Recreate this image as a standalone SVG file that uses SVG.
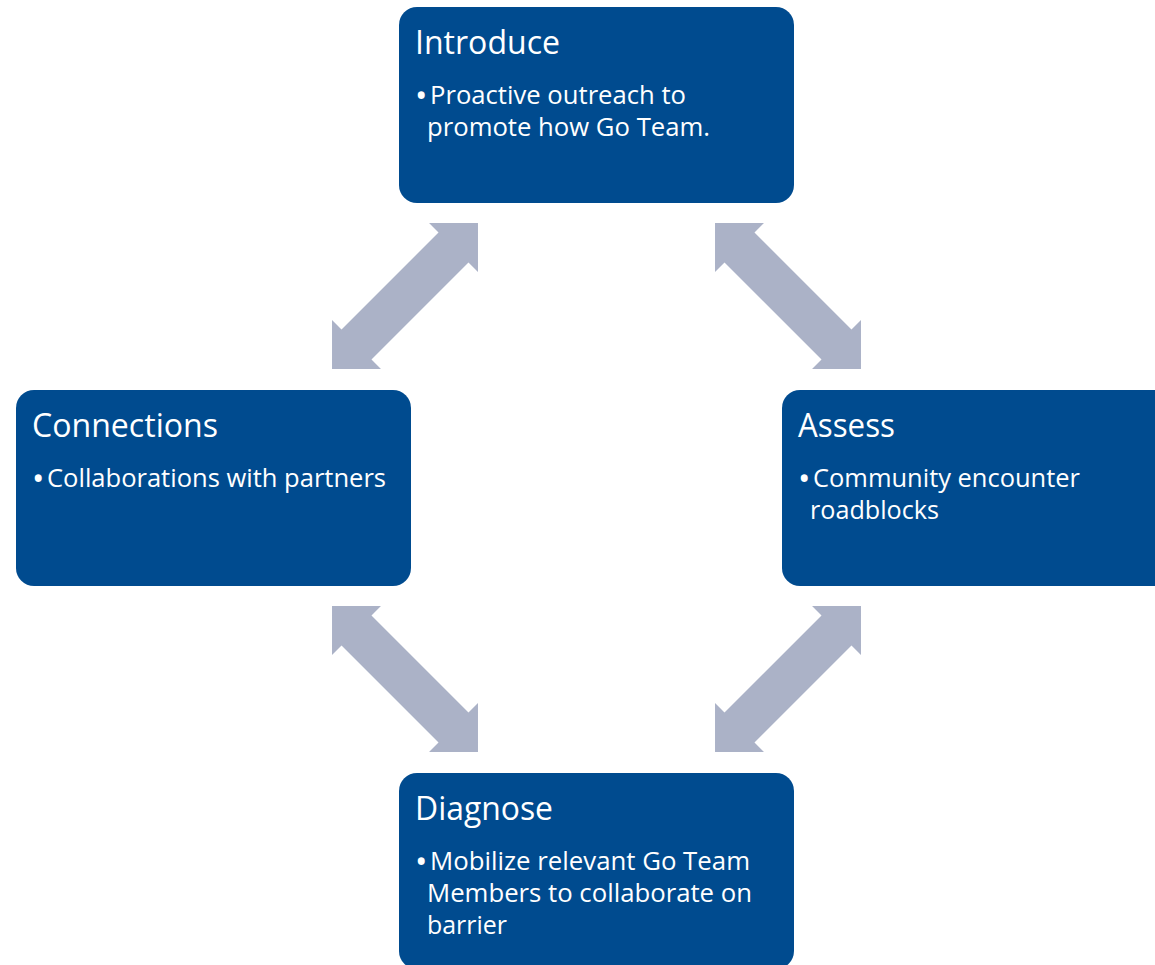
<svg xmlns="http://www.w3.org/2000/svg" xmlns:xlink="http://www.w3.org/1999/xlink" width="1155" height="965" viewBox="0 0 1155 965">
<style>
.box{fill:#004B8F;}
.arrow{fill:#ABB2C7;}
.title{font-family:"Open Sans","Noto Sans",sans-serif;font-size:32px;fill:#FFFFFF;}
.body{font-family:"Open Sans","Noto Sans",sans-serif;font-size:25px;fill:#FFFFFF;}
.bullet{font-family:"Open Sans","Noto Sans",sans-serif;font-size:33px;fill:#FFFFFF;}
</style>
<defs>
<polygon id="dblarrow" points="103.2,0 68.6,34.6 68.6,21.2 -68.6,21.2 -68.6,34.6 -103.2,0 -68.6,-34.6 -68.6,-21.2 68.6,-21.2 68.6,-34.6"/>
</defs>
<rect width="1155" height="965" fill="#FFFFFF"/>
<g id="connectors">
<use xlink:href="#dblarrow" class="arrow" transform="translate(405,296) rotate(-45)"/>
<use xlink:href="#dblarrow" class="arrow" transform="translate(788,296) rotate(45)"/>
<use xlink:href="#dblarrow" class="arrow" transform="translate(405,679) rotate(45)"/>
<use xlink:href="#dblarrow" class="arrow" transform="translate(788,679) rotate(-45)"/>
</g>
<g id="introduce">
<rect class="box" x="399" y="7" width="395" height="196" rx="18"/>
<text class="title" x="415" y="54" textLength="145" lengthAdjust="spacingAndGlyphs">Introduce</text>
<text class="bullet" x="415" y="107">•</text>
<text class="body" x="430" y="104" textLength="256" lengthAdjust="spacingAndGlyphs">Proactive outreach to</text>
<text class="body" x="427" y="136" textLength="283" lengthAdjust="spacingAndGlyphs">promote how Go Team.</text>
</g>
<g id="connections">
<rect class="box" x="16" y="390" width="395" height="196" rx="18"/>
<text class="title" x="32" y="437" textLength="186" lengthAdjust="spacingAndGlyphs">Connections</text>
<text class="bullet" x="32" y="490">•</text>
<text class="body" x="47" y="487" textLength="339" lengthAdjust="spacingAndGlyphs">Collaborations with partners</text>
</g>
<g id="assess">
<rect class="box" x="782" y="390" width="395" height="196" rx="18"/>
<text class="title" x="798" y="437" textLength="97" lengthAdjust="spacingAndGlyphs">Assess</text>
<text class="bullet" x="798" y="490">•</text>
<text class="body" x="813" y="487" textLength="267" lengthAdjust="spacingAndGlyphs">Community encounter</text>
<text class="body" x="810" y="519" textLength="129" lengthAdjust="spacingAndGlyphs">roadblocks</text>
</g>
<g id="diagnose">
<rect class="box" x="399" y="773" width="395" height="196" rx="18"/>
<text class="title" x="415" y="820" textLength="138" lengthAdjust="spacingAndGlyphs">Diagnose</text>
<text class="bullet" x="415" y="873">•</text>
<text class="body" x="430" y="870" textLength="320" lengthAdjust="spacingAndGlyphs">Mobilize relevant Go Team</text>
<text class="body" x="427" y="902" textLength="325" lengthAdjust="spacingAndGlyphs">Members to collaborate on</text>
<text class="body" x="427" y="934" textLength="80" lengthAdjust="spacingAndGlyphs">barrier</text>
</g>
</svg>
